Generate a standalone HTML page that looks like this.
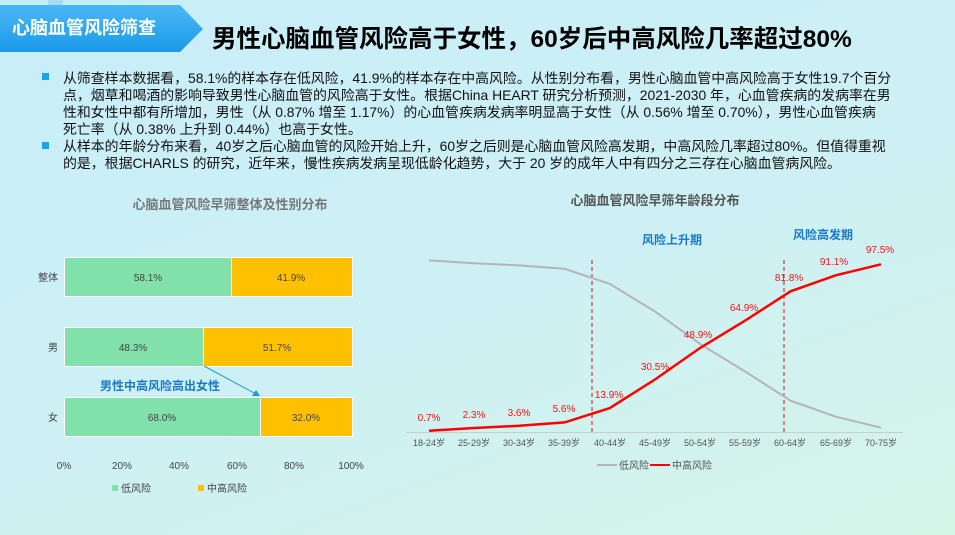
<!DOCTYPE html>
<html><head><meta charset="utf-8"><style>
html,body{margin:0;padding:0;width:955px;height:535px;overflow:hidden}
body{background:linear-gradient(160deg,#c8eef9 0%,#cdf0f5 50%,#d5f4e8 100%);font-family:"Liberation Sans","Noto Sans CJK SC",sans-serif}
svg{position:absolute;left:0;top:0}
text{font-family:"Liberation Sans","Noto Sans CJK SC",sans-serif}
</style></head><body>
<svg width="955" height="535" viewBox="0 0 955 535">
<defs><linearGradient id="tab" x1="0" y1="0" x2="0" y2="1"><stop offset="0" stop-color="#4bb8f5"/><stop offset="1" stop-color="#1a9ae8"/></linearGradient></defs>
<rect x="48" y="0" width="15" height="6" fill="#a9dcf0"/>
<polygon points="0,5 180,5 203,29 180,52 0,52" fill="url(#tab)"/>
<text x="12" y="34" font-size="18" font-weight="bold" fill="#fff">心脑血管风险筛查</text>
<text x="212" y="47" font-size="24.5" font-weight="bold" fill="#000">男性心脑血管风险高于女性，60岁后中高风险几率超过80%</text>
<g font-size="13.9" fill="#111">
<rect x="42" y="73" width="7" height="7" fill="#1aa3e8"/>
<text x="63" y="83">从筛查样本数据看，58.1%的样本存在低风险，41.9%的样本存在中高风险。从性别分布看，男性心脑血管中高风险高于女性19.7个百分</text>
<text x="63" y="100">点，烟草和喝酒的影响导致男性心脑血管的风险高于女性。根据China HEART 研究分析预测，2021-2030 年，心血管疾病的发病率在男</text>
<text x="63" y="117">性和女性中都有所增加，男性（从 0.87% 增至 1.17%）的心血管疾病发病率明显高于女性（从 0.56% 增至 0.70%），男性心血管疾病</text>
<text x="63" y="134">死亡率（从 0.38% 上升到 0.44%）也高于女性。</text>
<rect x="42" y="142" width="7" height="7" fill="#1aa3e8"/>
<text x="63" y="151">从样本的年龄分布来看，40岁之后心脑血管的风险开始上升，60岁之后则是心脑血管风险高发期，中高风险几率超过80%。但值得重视</text>
<text x="63" y="168">的是，根据CHARLS 的研究，近年来，慢性疾病发病呈现低龄化趋势，大于 20 岁的成年人中有四分之三存在心脑血管病风险。</text>
</g>
<!-- left chart -->
<text x="230" y="209" font-size="13" font-weight="bold" fill="#777" text-anchor="middle">心脑血管风险早筛整体及性别分布</text>
<g stroke="#fff" stroke-width="1">
<rect x="64.5" y="257.5" width="167" height="39" fill="#82e0aa"/><rect x="231.5" y="257.5" width="121" height="39" fill="#ffc000"/>
<rect x="64.5" y="327.5" width="139" height="39" fill="#82e0aa"/><rect x="203.5" y="327.5" width="149" height="39" fill="#ffc000"/>
<rect x="64.5" y="397.5" width="196" height="39" fill="#82e0aa"/><rect x="260.5" y="397.5" width="92" height="39" fill="#ffc000"/>
</g>
<g font-size="10" fill="#444" text-anchor="middle">
<text x="148" y="281">58.1%</text><text x="291" y="281">41.9%</text>
<text x="133" y="351">48.3%</text><text x="277" y="351">51.7%</text>
<text x="162" y="421">68.0%</text><text x="306" y="421">32.0%</text>
<text x="64" y="469">0%</text><text x="122" y="469">20%</text><text x="179" y="469">40%</text><text x="237" y="469">60%</text><text x="294" y="469">80%</text><text x="351" y="469">100%</text>
</g>
<g font-size="10" fill="#444" text-anchor="end"><text x="58" y="281">整体</text><text x="58" y="351">男</text><text x="58" y="421">女</text></g>
<line x1="204" y1="366" x2="256" y2="394" stroke="#1a9ad6" stroke-width="1"/>
<polygon points="260,396 252,396 256,390" fill="#1a9ad6"/>
<text x="100" y="390" font-size="12" font-weight="bold" fill="#1a7ac8">男性中高风险高出女性</text>
<rect x="112" y="485" width="6" height="6" fill="#82e0aa"/><text x="121" y="492" font-size="10" fill="#444">低风险</text>
<rect x="198" y="485" width="6" height="6" fill="#ffc000"/><text x="207" y="492" font-size="10" fill="#444">中高风险</text>
<!-- right chart -->
<text x="655" y="205" font-size="13" font-weight="bold" fill="#555" text-anchor="middle">心脑血管风险早筛年龄段分布</text>
<text x="672" y="244" font-size="12" font-weight="bold" fill="#1a7ac8" text-anchor="middle">风险上升期</text>
<text x="823" y="239" font-size="12" font-weight="bold" fill="#1a7ac8" text-anchor="middle">风险高发期</text>
<line x1="406" y1="432.5" x2="903" y2="432.5" stroke="#ccc" stroke-width="1"/>
<line x1="592" y1="260" x2="592" y2="432" stroke="#d01010" stroke-width="1" stroke-dasharray="4,3"/>
<line x1="784" y1="260" x2="784" y2="432" stroke="#d01010" stroke-width="1" stroke-dasharray="4,3"/>
<polyline fill="none" stroke="#b4b4bc" stroke-width="2" points="429,260.4 474.2,263.2 519.4,265.4 564.6,268.8 609.8,283.9 655,311.5 700.2,344.1 745.4,371.6 790.6,400.7 835.8,416.7 881,427.7"/>
<polyline fill="none" stroke="#ff0000" stroke-width="2.5" points="429,430.8 474.2,428 519.4,425.8 564.6,422.4 609.8,408.1 655,379.5 700.2,347.9 745.4,320.4 790.6,291.3 835.8,275.3 881,264.3"/>
<g font-size="10" fill="#ff1010" text-anchor="middle">
<text x="429" y="421">0.7%</text><text x="474" y="418">2.3%</text><text x="519" y="416">3.6%</text><text x="564" y="412">5.6%</text><text x="609" y="398">13.9%</text><text x="655" y="370">30.5%</text><text x="698" y="338">48.9%</text><text x="744" y="311">64.9%</text><text x="789" y="281">81.8%</text><text x="834" y="265">91.1%</text><text x="880" y="253">97.5%</text>
</g>
<g font-size="9" fill="#555" text-anchor="middle">
<text x="429" y="446">18-24岁</text><text x="474" y="446">25-29岁</text><text x="519" y="446">30-34岁</text><text x="564" y="446">35-39岁</text><text x="610" y="446">40-44岁</text><text x="655" y="446">45-49岁</text><text x="700" y="446">50-54岁</text><text x="745" y="446">55-59岁</text><text x="790" y="446">60-64岁</text><text x="836" y="446">65-69岁</text><text x="881" y="446">70-75岁</text>
</g>
<line x1="597" y1="465" x2="617" y2="465" stroke="#b4b4bc" stroke-width="2"/><text x="619" y="469" font-size="10" fill="#555">低风险</text>
<line x1="650" y1="465" x2="670" y2="465" stroke="#ff0000" stroke-width="2"/><text x="672" y="469" font-size="10" fill="#555">中高风险</text>
</svg>
</body></html>
